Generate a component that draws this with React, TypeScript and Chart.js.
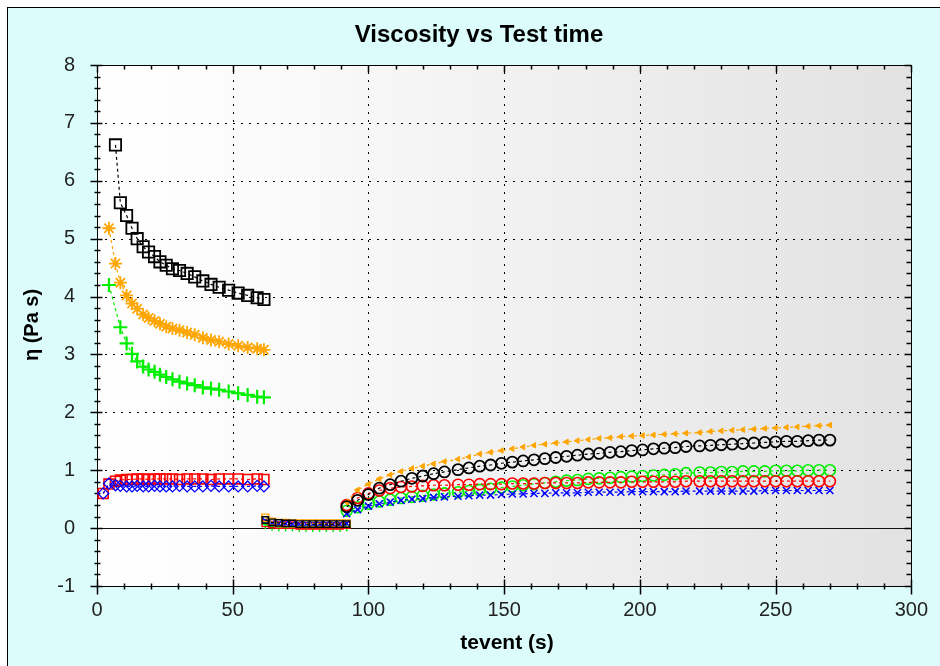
import React, { useEffect, useRef } from 'react';
import { Chart, registerables } from 'chart.js';

Chart.register(...registerables);

const FONT = '"Liberation Sans", Arial, Helvetica, sans-serif';

const TITLE = 'Viscosity vs Test time';
const X_TITLE = 'tevent (s)';
const Y_TITLE = 'η (Pa s)';

const X_MIN = 0;
const X_MAX = 300;
const X_STEP = 50;
const X_MINOR = 10;
const Y_MIN = -1;
const Y_MAX = 8;
const Y_STEP = 1;
const Y_MINOR = 0.2;

// ---- Interval 1 (0 - 62 s)
const t1Black = [6.8, 8.6, 10.9, 12.9, 14.8, 17.0, 19.0, 21.2, 23.2, 25.5, 27.8, 30.4, 33.2, 36.0, 39.0, 42.0, 45.0, 48.5, 52.0, 55.5, 59.0, 61.5];
const v1Black = [6.62, 5.62, 5.40, 5.18, 5.00, 4.86, 4.77, 4.69, 4.60, 4.54, 4.48, 4.45, 4.40, 4.34, 4.27, 4.21, 4.16, 4.11, 4.06, 4.02, 3.98, 3.95];

const t1Orange = [4.4, 6.8, 8.6, 10.9, 12.9, 14.8, 17.0, 19.0, 21.2, 23.2, 25.5, 27.8, 30.4, 33.2, 36.0, 39.0, 42.0, 45.0, 48.5, 52.0, 55.5, 59.0, 61.5];
const v1Orange = [5.18, 4.57, 4.24, 4.02, 3.88, 3.79, 3.69, 3.63, 3.58, 3.53, 3.48, 3.45, 3.42, 3.38, 3.34, 3.29, 3.25, 3.22, 3.18, 3.15, 3.12, 3.10, 3.08];

const t1Green = [4.4, 8.6, 10.9, 12.9, 14.8, 17.0, 19.0, 21.2, 23.2, 25.5, 27.8, 30.4, 33.2, 36.0, 39.0, 42.0, 45.0, 48.5, 52.0, 55.5, 59.0, 61.5];
const v1Green = [4.20, 3.47, 3.19, 3.01, 2.88, 2.79, 2.74, 2.70, 2.65, 2.61, 2.57, 2.53, 2.50, 2.47, 2.43, 2.41, 2.39, 2.36, 2.33, 2.30, 2.27, 2.26];

const t1Low = [2.3, 4.4, 6.8, 8.6, 10.9, 12.9, 14.8, 17.0, 19.0, 21.2, 23.2, 25.5, 27.8, 30.4, 33.2, 36.0, 39.0, 42.0, 45.0, 48.5, 52.0, 55.5, 59.0, 61.5];
const v1Red = [0.60, 0.76, 0.81, 0.83, 0.84, 0.84, 0.85, 0.85, 0.84, 0.85, 0.85, 0.85, 0.85, 0.84, 0.85, 0.85, 0.85, 0.84, 0.85, 0.85, 0.85, 0.84, 0.85, 0.84];
const v1Blue = [0.60, 0.77, 0.74, 0.73, 0.72, 0.72, 0.73, 0.72, 0.72, 0.73, 0.72, 0.72, 0.72, 0.73, 0.72, 0.72, 0.72, 0.73, 0.72, 0.72, 0.72, 0.72, 0.73, 0.72];

// ---- Interval 2 (62 - 92 s)
const t2 = [62.0, 64.5, 67.0, 69.5, 72.0, 74.5, 77.0, 79.5, 82.0, 84.5, 87.0, 89.5, 92.0];
const v2Black = [0.14, 0.10, 0.09, 0.08, 0.08, 0.07, 0.07, 0.07, 0.07, 0.07, 0.07, 0.07, 0.07];
const v2Orange = [0.18, 0.11, 0.09, 0.09, 0.08, 0.08, 0.08, 0.08, 0.08, 0.08, 0.08, 0.08, 0.08];
const v2Green = [0.06, 0.03, 0.02, 0.02, 0.02, 0.01, 0.01, 0.01, 0.01, 0.01, 0.01, 0.01, 0.02];
const v2Red = [0.08, 0.06, 0.05, 0.05, 0.05, 0.04, 0.04, 0.04, 0.04, 0.04, 0.04, 0.04, 0.05];
const v2Blue = [0.13, 0.09, 0.08, 0.08, 0.07, 0.07, 0.07, 0.07, 0.07, 0.07, 0.07, 0.07, 0.08];

// ---- Interval 3 (92 - 270 s)
const t3 = [92, 96, 100, 104, 108, 112, 116, 120, 124, 128, 133, 137, 141, 145, 149, 153, 157, 161, 165, 169, 173, 177, 181, 185, 189, 193, 197, 201, 205, 209, 213, 217, 222, 226, 230, 234, 238, 242, 246, 250, 254, 258, 262, 266, 270];
const v3Black = [0.37, 0.48, 0.58, 0.69, 0.75, 0.81, 0.86, 0.90, 0.94, 0.97, 1.01, 1.04, 1.07, 1.09, 1.12, 1.14, 1.16, 1.18, 1.20, 1.22, 1.24, 1.26, 1.28, 1.29, 1.31, 1.32, 1.34, 1.35, 1.37, 1.38, 1.39, 1.41, 1.42, 1.43, 1.44, 1.45, 1.46, 1.47, 1.48, 1.49, 1.50, 1.50, 1.51, 1.52, 1.52];
const v3Orange = [0.45, 0.66, 0.76, 0.85, 0.92, 0.98, 1.03, 1.07, 1.11, 1.15, 1.19, 1.23, 1.28, 1.31, 1.34, 1.37, 1.40, 1.43, 1.45, 1.47, 1.49, 1.51, 1.53, 1.55, 1.56, 1.58, 1.59, 1.60, 1.61, 1.62, 1.63, 1.64, 1.65, 1.67, 1.68, 1.69, 1.70, 1.71, 1.72, 1.73, 1.74, 1.75, 1.76, 1.77, 1.78];
const v3Green = [0.30, 0.36, 0.42, 0.46, 0.49, 0.52, 0.54, 0.56, 0.58, 0.60, 0.62, 0.64, 0.66, 0.68, 0.70, 0.72, 0.74, 0.76, 0.78, 0.80, 0.82, 0.83, 0.85, 0.86, 0.87, 0.88, 0.89, 0.90, 0.91, 0.92, 0.93, 0.95, 0.96, 0.96, 0.97, 0.97, 0.98, 0.98, 0.98, 0.99, 0.99, 0.99, 1.00, 1.00, 1.00];
const v3Red = [0.40, 0.52, 0.60, 0.65, 0.69, 0.71, 0.72, 0.73, 0.74, 0.74, 0.75, 0.75, 0.76, 0.76, 0.76, 0.77, 0.77, 0.77, 0.78, 0.78, 0.78, 0.78, 0.79, 0.79, 0.79, 0.79, 0.80, 0.80, 0.80, 0.80, 0.80, 0.81, 0.81, 0.81, 0.81, 0.81, 0.81, 0.81, 0.81, 0.81, 0.81, 0.81, 0.81, 0.81, 0.81];
const v3Blue = [0.25, 0.32, 0.38, 0.42, 0.45, 0.48, 0.50, 0.51, 0.53, 0.54, 0.55, 0.56, 0.57, 0.57, 0.58, 0.59, 0.59, 0.60, 0.60, 0.61, 0.61, 0.61, 0.62, 0.62, 0.62, 0.62, 0.63, 0.63, 0.63, 0.63, 0.63, 0.64, 0.64, 0.64, 0.64, 0.64, 0.64, 0.64, 0.65, 0.65, 0.65, 0.65, 0.65, 0.65, 0.65];

const BLACK = '#000000';
const ORANGE = '#ffa500';
const GREEN = '#00ee00';
const RED = '#ff0000';
const BLUE = '#0000ff';

function series(label: string, xs: number[], ys: number[], color: string, pointStyle: any, radius: number, pw: number, filled = false, rotation = 0) {
  return {
    label,
    data: xs.map((x, i) => ({ x, y: ys[i] })),
    showLine: true,
    borderColor: color,
    borderWidth: 1.2,
    borderDash: [3, 3],
    pointStyle,
    pointRadius: radius,
    pointHoverRadius: radius,
    pointBorderColor: color,
    pointBackgroundColor: filled ? color : 'rgba(0,0,0,0)',
    pointBorderWidth: pw,
    pointRotation: rotation,
    fill: false,
  };
}

const framePlugin = {
  id: 'frame',
  beforeDraw(chart: any) {
    const { ctx, chartArea: a } = chart;
    ctx.save();
    const g = ctx.createLinearGradient(a.left, 0, a.right, 0);
    g.addColorStop(0, '#ffffff');
    g.addColorStop(0.2, '#fbfbfb');
    g.addColorStop(1, '#e2e2e2');
    ctx.fillStyle = g;
    ctx.fillRect(a.left, a.top, a.right - a.left, a.bottom - a.top);
    ctx.restore();
  },
  beforeDatasetsDraw(chart: any) {
    const { ctx, chartArea: a, scales } = chart;
    const xs = scales.x;
    const ys = scales.y;
    ctx.save();
    // dotted grid
    ctx.strokeStyle = '#000';
    ctx.lineWidth = 1;
    ctx.setLineDash([2, 6]);
    const nx = Math.round((X_MAX - X_MIN) / X_STEP);
    for (let i = 1; i < nx; i++) {
      const px = Math.round(xs.getPixelForValue(X_MIN + i * X_STEP)) + 0.5;
      ctx.beginPath();
      ctx.moveTo(px, a.bottom);
      ctx.lineTo(px, a.top);
      ctx.stroke();
    }
    const ny = Math.round((Y_MAX - Y_MIN) / Y_STEP);
    for (let i = 1; i < ny; i++) {
      const py = Math.round(ys.getPixelForValue(Y_MIN + i * Y_STEP)) + 0.5;
      ctx.beginPath();
      ctx.moveTo(a.left, py);
      ctx.lineTo(a.right, py);
      ctx.stroke();
    }
    ctx.setLineDash([]);
    // zero line
    const pz = Math.round(ys.getPixelForValue(0)) + 0.5;
    ctx.strokeStyle = '#111';
    ctx.lineWidth = 1.2;
    ctx.beginPath();
    ctx.moveTo(a.left, pz);
    ctx.lineTo(a.right, pz);
    ctx.stroke();
    // border
    ctx.strokeStyle = '#000';
    ctx.lineWidth = 1;
    const L = Math.round(a.left) + 0.5, R = Math.round(a.right) + 0.5, T = Math.round(a.top) + 0.5, B = Math.round(a.bottom) + 0.5;
    ctx.strokeRect(L, T, R - L, B - T);
    // ticks
    ctx.lineWidth = 1.5;
    const nxm = Math.round((X_MAX - X_MIN) / X_MINOR);
    const per = Math.round(X_STEP / X_MINOR);
    for (let i = 0; i <= nxm; i++) {
      const px = Math.round(xs.getPixelForValue(X_MIN + i * X_MINOR)) + 0.5;
      const major = i % per === 0;
      ctx.beginPath();
      if (major) {
        ctx.moveTo(px, B + 8); ctx.lineTo(px, B - 7);
        ctx.moveTo(px, T); ctx.lineTo(px, T + 7);
      } else {
        ctx.moveTo(px, B + 3); ctx.lineTo(px, B - 3);
        ctx.moveTo(px, T); ctx.lineTo(px, T + 4);
      }
      ctx.stroke();
    }
    const nym = Math.round((Y_MAX - Y_MIN) / Y_MINOR);
    const pery = Math.round(Y_STEP / Y_MINOR);
    for (let i = 0; i <= nym; i++) {
      const py = Math.round(ys.getPixelForValue(Y_MIN + i * Y_MINOR)) + 0.5;
      const major = i % pery === 0;
      ctx.beginPath();
      if (major) {
        ctx.moveTo(L - 7, py); ctx.lineTo(L + 5, py);
        ctx.moveTo(R, py); ctx.lineTo(R - 7, py);
      } else {
        ctx.moveTo(L - 3, py); ctx.lineTo(L + 3, py);
        ctx.moveTo(R, py); ctx.lineTo(R - 5, py);
      }
      ctx.stroke();
    }
    ctx.restore();
  },
  afterDraw(chart: any) {
    const { ctx } = chart;
    ctx.save();
    ctx.fillStyle = '#000';
    ctx.textAlign = 'center';
    ctx.textBaseline = 'middle';
    ctx.font = `bold 24px ${FONT}`;
    ctx.fillText(TITLE, 471, 27);
    ctx.font = `bold 21px ${FONT}`;
    ctx.fillText(X_TITLE, 499, 635);
    ctx.translate(24, 317);
    ctx.rotate(-Math.PI / 2);
    ctx.font = `bold 20px ${FONT}`;
    ctx.fillText(Y_TITLE, 0, 0);
    ctx.restore();
  },
};

export default function App() {
  const ref = useRef<HTMLCanvasElement | null>(null);
  useEffect(() => {
    if (!ref.current) return;
    const datasets: any[] = [
      series('Black 1', t1Black, v1Black, BLACK, 'rect', 8, 1.8),
      series('Orange 1', t1Orange, v1Orange, ORANGE, 'star', 6.5, 1.8),
      series('Green 1', t1Green, v1Green, GREEN, 'cross', 7, 2.2),
      series('Blue 1', t1Low, v1Blue, BLUE, 'rectRot', 5.5, 1.3),
      series('Red 1', t1Low, v1Red, RED, 'rect', 7, 1.6),
      series('Black 2', t2, v2Black, BLACK, 'rect', 4.5, 1.4),
      series('Orange 2', t2, v2Orange, ORANGE, 'rect', 5, 1.4),
      series('Blue 2', t2, v2Blue, BLUE, 'crossRot', 4.5, 1.4),
      series('Red 2', t2, v2Red, RED, 'rect', 4.5, 1.4),
      series('Green 2', t2, v2Green, GREEN, 'cross', 4.5, 1.4),
      series('Black 3', t3, v3Black, BLACK, 'circle', 5.5, 1.8),
      series('Orange 3', t3, v3Orange, ORANGE, 'triangle', 3.2, 1, true, -90),
      series('Red 3', t3, v3Red, RED, 'circle', 5.5, 1.6),
      series('Blue 3', t3, v3Blue, BLUE, 'crossRot', 5, 1.5),
      series('Green 3', t3, v3Green, GREEN, 'circle', 5.5, 1.6),
    ];
    const chart = new Chart(ref.current, {
      type: 'scatter',
      data: { datasets },
      options: {
        responsive: false,
        maintainAspectRatio: false,
        animation: false,
        devicePixelRatio: 1,
        layout: { padding: { left: 0, top: 57, right: 24, bottom: 0 } },
        plugins: { legend: { display: false }, tooltip: { enabled: false }, title: { display: false } },
        scales: {
          x: {
            type: 'linear',
            min: X_MIN,
            max: X_MAX,
            grid: { display: false, drawTicks: false },
            border: { display: false },
            ticks: { stepSize: X_STEP, padding: 12, color: '#222', font: { family: FONT, size: 20 }, maxRotation: 0 },
            afterFit: (s: any) => { s.height = 80; },
          },
          y: {
            type: 'linear',
            min: Y_MIN,
            max: Y_MAX,
            grid: { display: false, drawTicks: false },
            border: { display: false },
            ticks: { stepSize: Y_STEP, padding: 22, color: '#222', font: { family: FONT, size: 20 } },
            afterFit: (s: any) => { s.width = 89; },
          },
        },
      } as any,
      plugins: [framePlugin as any],
    });
    return () => chart.destroy();
  }, []);
  return (
    <div style={{ position: 'absolute', left: 7, top: 7, width: 933, height: 659, borderLeft: '1px solid #000', borderTop: '1px solid #000', background: '#dcfcfc', overflow: 'hidden' }}>
      <canvas ref={ref} width={932} height={658} style={{ display: 'block' }} />
    </div>
  );
}
